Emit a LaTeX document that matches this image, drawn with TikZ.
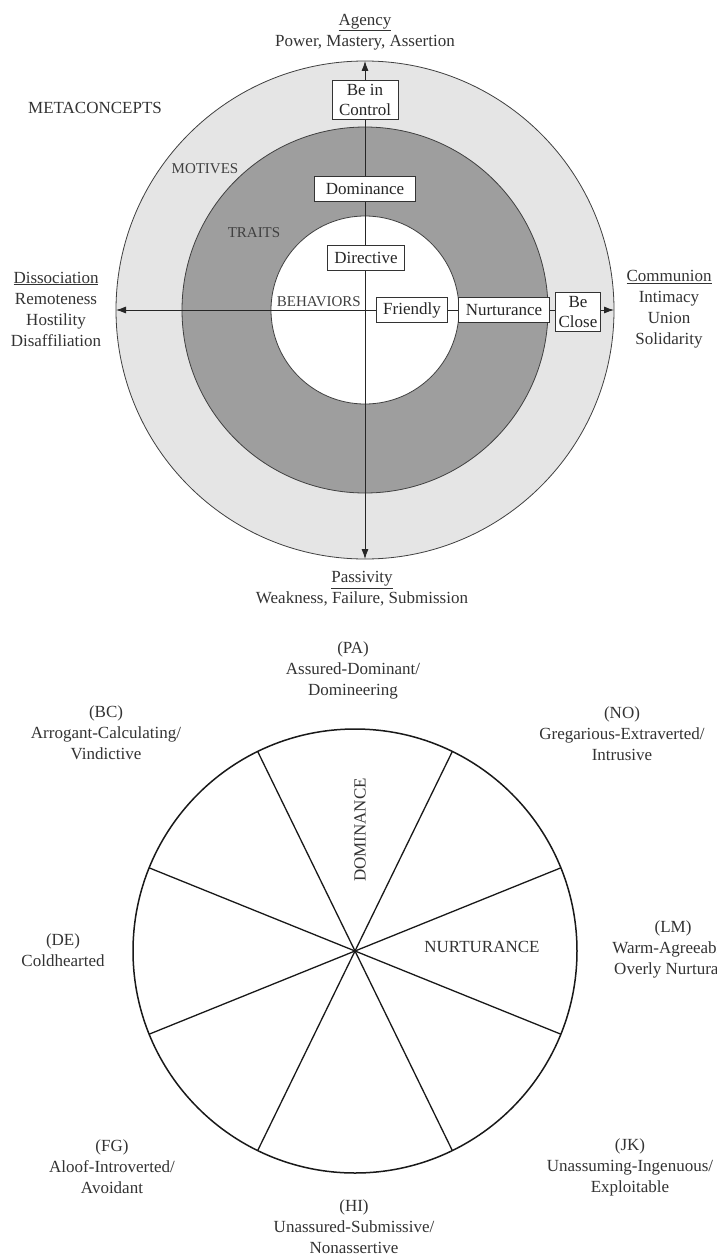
\documentclass[tikz,border=0pt]{standalone}
\usepackage{fontspec}
\setmainfont{Liberation Serif}
\usepackage{xcolor}
\usepackage{tikz}
\usetikzlibrary{arrows.meta}

\begin{document}
\begin{tikzpicture}[x=1pt,y=-1pt,
  lbl/.style={font=\fontsize{17}{21}\selectfont, text=black!80, align=center, inner sep=0pt},
  caps/.style={font=\fontsize{15}{18}\selectfont, text=black!75, inner sep=0pt},
  boxnode/.style={draw=black!80, fill=white, line width=0.9pt, font=\fontsize{17}{20}\selectfont,
    text=black!85, align=center, inner xsep=7pt, inner ysep=3.5pt, minimum height=25pt},
  axis/.style={line width=0.8pt, draw=black!85, {Latex[length=10pt,width=7pt]}-{Latex[length=10pt,width=7pt]}}]
\useasboundingbox (0,0) rectangle (717,1255);
\fill[white] (0,0) rectangle (717,1255);
\clip (0,0) rectangle (717,1255);

\coordinate (core) at (365,310);
\coordinate (agencytip) at (365,61);
\coordinate (passivtip) at (365,559);
\coordinate (dissoctip) at (116,310);
\coordinate (communtip) at (614,310);

\draw[fill=black!10!white, draw=black!75, line width=0.8pt] (core) circle (249pt);
\draw[fill=black!38!white, draw=black!75, line width=0.8pt] (core) circle (183pt);
\draw[fill=white, draw=black!75, line width=0.8pt] (core) circle (94pt);

\draw[axis] (passivtip) -- (agencytip);
\draw[axis] (dissoctip) -- (communtip);

\node[boxnode] (ctrl) at (365,100) {Be in\\Control};
\node[boxnode, minimum width=101pt] (dom) at (365,189) {Dominance};
\node[boxnode] (dir) at (366,258) {Directive};
\node[boxnode] (friendly) at (412,310) {Friendly};
\node[boxnode] (nurt) at (504,310) {Nurturance};
\node[boxnode, inner xsep=3.5pt] (close) at (578,312) {Be\\Close};

\node[lbl] (agency) at (365,32) {\underline{Agency}\\Power, Mastery, Assertion};
\node[lbl] (passiv) at (362,589) {\underline{Passivity}\\Weakness, Failure, Submission};
\node[lbl] (dissoc) at (56,309) {\underline{Dissociation}\\Remoteness\\Hostility\\Disaffiliation};
\node[lbl] (commun) at (669,309) {\underline{Communion}\\Intimacy\\Union\\Solidarity};
\node[lbl] (meta) at (95,108) {METACONCEPTS};
\node[caps] (motives) at (205,169) {MOTIVES};
\node[caps] (traits) at (254,233) {TRAITS};
\node[caps, anchor=base east] (behav) at (361,306) {BEHAVIORS};

\coordinate (hub) at (355,951);
\draw[line width=1.5pt, black!90] (hub) circle (222pt);
\foreach \a in {22,64,116,158,202,244,296,338}
  \draw[line width=1.3pt, black!90] (hub) -- ++(\a:222);

\node[lbl, rotate=90] (domaxis) at (360,830) {DOMINANCE};
\node[lbl] (nurtaxis) at (482,947) {NURTURANCE};

\node[lbl] (pa) at (353,670) {(PA)\\Assured-Dominant/\\Domineering};
\node[lbl] (bc) at (106,733) {(BC)\\Arrogant-Calculating/\\Vindictive};
\node[lbl] (no) at (622,734) {(NO)\\Gregarious-Extraverted/\\Intrusive};
\node[lbl] (de) at (63,950) {(DE)\\Coldhearted};
\node[lbl] (lm) at (673,949) {(LM)\\Warm-Agreeable/\\Overly Nurturant};
\node[lbl] (fg) at (112,1167) {(FG)\\Aloof-Introverted/\\Avoidant};
\node[lbl] (hi) at (354,1227) {(HI)\\Unassured-Submissive/\\Nonassertive};
\node[lbl] (jk) at (630,1167) {(JK)\\Unassuming-Ingenuous/\\Exploitable};

\end{tikzpicture}
\end{document}
